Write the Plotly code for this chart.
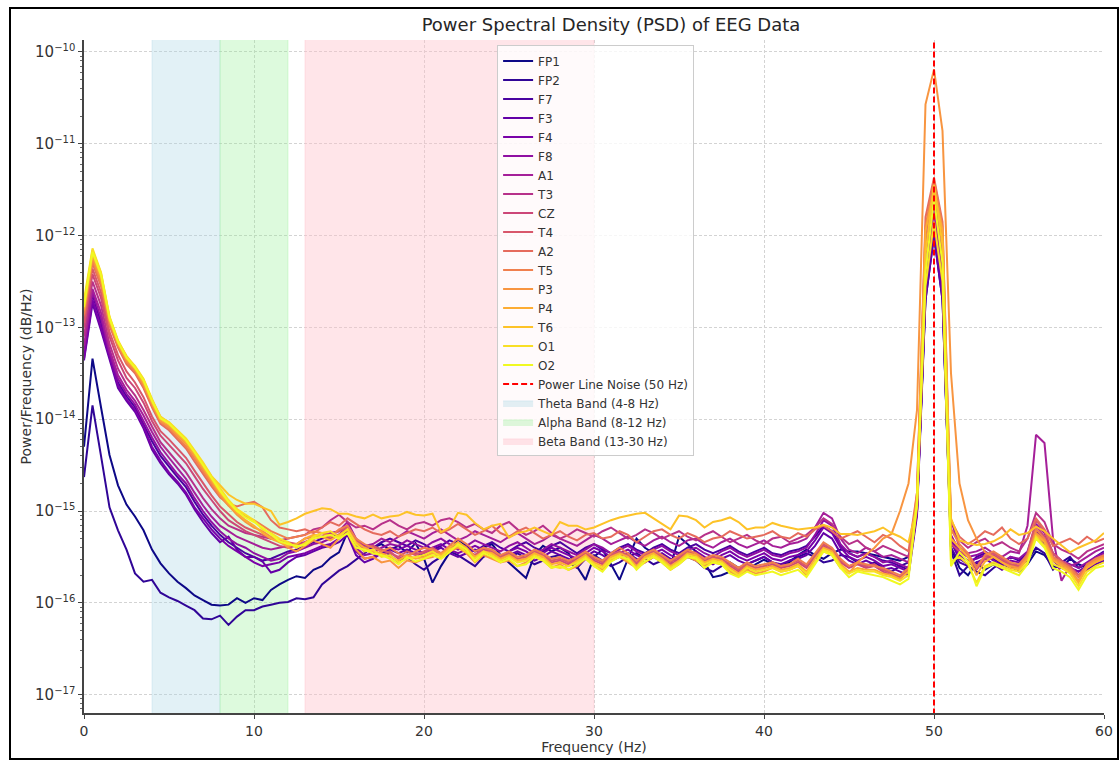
import numpy as np
import plotly.graph_objects as go

# Frequency grid (Hz), 0.5 Hz resolution
freqs = np.arange(0, 60.5, 0.5)

channels = ["FP1", "FP2", "F7", "F3", "F4", "F8", "A1", "T3", "CZ",
            "T4", "A2", "T5", "P3", "P4", "T6", "O1", "O2"]

# plasma colormap sampled at 17 evenly spaced points
colors = ["#0d0887", "#300597", "#4a02a0", "#6300a7", "#7a02a8", "#9010a2",
          "#a51f99", "#b7318a", "#cc4778", "#d8576b", "#e56b5d", "#f0804e",
          "#f89540", "#fdac33", "#fdc328", "#f8df25", "#f0f921"]

# y-axis decades and their labels
ytick_exps = [-17, -16, -15, -14, -13, -12, -11, -10]
ytick_text = ["10<sup><span style='font-size:10px'>−%d</span></sup>" % (-e) for e in ytick_exps]

# log10 PSD per channel, one row per 5 Hz (10 bins), last row = 60 Hz
fp1 = [
    -14.30, -13.34, -13.87, -14.39, -14.72, -14.93, -15.06, -15.21, -15.42, -15.57,
    -15.68, -15.77, -15.84, -15.92, -15.97, -16.02, -16.03, -16.02, -15.95, -16.00,
    -15.95, -15.97, -15.86, -15.80, -15.75, -15.71, -15.73, -15.64, -15.60, -15.51,
    -15.45, -15.23, -15.36, -15.37, -15.40, -15.36, -15.42, -15.38, -15.45, -15.35,
    -15.52, -15.78, -15.60, -15.46, -15.31, -15.38, -15.44, -15.40, -15.36, -15.48,
    -15.56, -15.64, -15.73, -15.48, -15.38, -15.44, -15.40, -15.46, -15.60, -15.75,
    -15.50, -15.42, -15.58, -15.75, -15.52, -15.30, -15.40, -15.46, -15.52, -15.60,
    -15.28, -15.36, -15.44, -15.56, -15.72, -15.70, -15.66, -15.70, -15.64, -15.58,
    -15.53, -15.58, -15.62, -15.56, -15.48, -15.42, -15.48, -15.52, -15.46, -15.42,
    -15.44, -15.44, -15.46, -15.48, -15.50, -15.52, -15.54, -15.50, -14.95, -12.70,
    -12.00, -12.70, -15.40, -15.62, -15.70, -15.56, -15.64, -15.58, -15.54, -15.60,
    -15.66, -15.58, -15.44, -15.48, -15.60, -15.62, -15.52, -15.58, -15.62, -15.56,
    -15.50]
fp2 = [
    -14.63, -13.85, -14.40, -14.96, -15.21, -15.42, -15.68, -15.77, -15.75, -15.89,
    -15.94, -15.98, -16.03, -16.08, -16.17, -16.18, -16.14, -16.24, -16.15, -16.08,
    -16.08, -16.04, -16.02, -16.00, -15.99, -15.95, -15.96, -15.94, -15.80, -15.72,
    -15.65, -15.60, -15.53, -15.45, -15.39, -15.42, -15.48, -15.56, -15.50, -15.58,
    -15.64, -15.56, -15.50, -15.44, -15.48, -15.54, -15.60, -15.50, -15.46, -15.54,
    -15.50, -15.46, -15.52, -15.58, -15.54, -15.50, -15.48, -15.56, -15.62, -15.52,
    -15.48, -15.54, -15.60, -15.56, -15.50, -15.46, -15.52, -15.58, -15.54, -15.60,
    -15.56, -15.50, -15.54, -15.62, -15.66, -15.60, -15.56, -15.62, -15.58, -15.54,
    -15.50, -15.56, -15.60, -15.54, -15.50, -15.46, -15.50, -15.56, -15.54, -15.48,
    -15.50, -15.56, -15.60, -15.56, -15.62, -15.66, -15.60, -15.56, -15.02, -12.65,
    -11.90, -12.65, -15.44, -15.70, -15.60, -15.66, -15.70, -15.62, -15.56, -15.62,
    -15.58, -15.54, -15.40, -15.46, -15.64, -15.56, -15.50, -15.62, -15.58, -15.52,
    -15.48]
f7 = [
    -13.30, -12.64, -12.95, -13.30, -13.60, -13.75, -13.87, -14.05, -14.24, -14.40,
    -14.52, -14.63, -14.74, -14.90, -15.04, -15.16, -15.26, -15.34, -15.40, -15.46,
    -15.50, -15.54, -15.52, -15.48, -15.44, -15.42, -15.38, -15.34, -15.30, -15.28,
    -15.26, -15.18, -15.36, -15.44, -15.40, -15.34, -15.30, -15.34, -15.38, -15.32,
    -15.36, -15.42, -15.38, -15.32, -15.36, -15.40, -15.44, -15.38, -15.34, -15.40,
    -15.44, -15.38, -15.34, -15.40, -15.44, -15.38, -15.34, -15.40, -15.46, -15.40,
    -15.36, -15.42, -15.46, -15.40, -15.36, -15.42, -15.46, -15.40, -15.36, -15.42,
    -15.46, -15.40, -15.36, -15.42, -15.46, -15.42, -15.38, -15.44, -15.48, -15.44,
    -15.40, -15.46, -15.48, -15.44, -15.42, -15.38, -15.28, -15.16, -15.22, -15.38,
    -15.46, -15.50, -15.46, -15.50, -15.54, -15.56, -15.60, -15.64, -15.00, -12.60,
    -11.95, -12.60, -15.40, -15.56, -15.60, -15.50, -15.46, -15.52, -15.58, -15.50,
    -15.54, -15.46, -15.22, -15.32, -15.50, -15.58, -15.62, -15.66, -15.60, -15.50,
    -15.44]
f3 = [
    -13.36, -12.74, -13.03, -13.35, -13.66, -13.80, -13.92, -14.10, -14.33, -14.48,
    -14.60, -14.70, -14.82, -14.98, -15.12, -15.24, -15.34, -15.28, -15.42, -15.50,
    -15.50, -15.55, -15.67, -15.64, -15.56, -15.50, -15.48, -15.44, -15.40, -15.38,
    -15.34, -15.26, -15.48, -15.56, -15.52, -15.46, -15.42, -15.46, -15.42, -15.46,
    -15.50, -15.44, -15.40, -15.46, -15.50, -15.46, -15.42, -15.46, -15.50, -15.54,
    -15.48, -15.44, -15.48, -15.54, -15.50, -15.44, -15.48, -15.52, -15.56, -15.50,
    -15.44, -15.48, -15.54, -15.50, -15.46, -15.52, -15.56, -15.50, -15.46, -15.52,
    -15.56, -15.50, -15.48, -15.54, -15.58, -15.52, -15.48, -15.54, -15.58, -15.54,
    -15.50, -15.56, -15.58, -15.54, -15.52, -15.48, -15.38, -15.24, -15.30, -15.46,
    -15.54, -15.58, -15.54, -15.58, -15.64, -15.62, -15.66, -15.70, -15.05, -12.70,
    -12.00, -12.70, -15.34, -15.52, -15.58, -15.56, -15.52, -15.58, -15.64, -15.58,
    -15.60, -15.52, -15.26, -15.36, -15.54, -15.62, -15.66, -15.70, -15.64, -15.58,
    -15.54]
f4 = [
    -13.34, -12.70, -13.00, -13.33, -13.63, -13.78, -13.90, -14.08, -14.30, -14.45,
    -14.58, -14.68, -14.80, -14.96, -15.08, -15.20, -15.30, -15.38, -15.44, -15.50,
    -15.56, -15.60, -15.58, -15.56, -15.50, -15.48, -15.46, -15.42, -15.38, -15.36,
    -15.30, -15.22, -15.44, -15.52, -15.50, -15.44, -15.40, -15.42, -15.38, -15.42,
    -15.46, -15.40, -15.36, -15.42, -15.46, -15.42, -15.38, -15.42, -15.46, -15.50,
    -15.44, -15.40, -15.44, -15.50, -15.46, -15.40, -15.44, -15.48, -15.52, -15.46,
    -15.40, -15.44, -15.50, -15.46, -15.42, -15.48, -15.52, -15.46, -15.42, -15.48,
    -15.52, -15.46, -15.44, -15.50, -15.54, -15.48, -15.44, -15.50, -15.54, -15.50,
    -15.46, -15.52, -15.54, -15.50, -15.48, -15.44, -15.32, -15.18, -15.24, -15.40,
    -15.50, -15.54, -15.50, -15.54, -15.60, -15.58, -15.62, -15.66, -15.02, -12.55,
    -11.90, -12.55, -15.30, -15.48, -15.54, -15.52, -15.48, -15.54, -15.60, -15.54,
    -15.56, -15.48, -15.20, -15.30, -15.50, -15.58, -15.62, -15.66, -15.60, -15.54,
    -15.50]
f8 = [
    -13.25, -12.62, -12.90, -13.28, -13.56, -13.72, -13.84, -14.02, -14.20, -14.36,
    -14.48, -14.60, -14.70, -14.86, -15.00, -15.12, -15.22, -15.30, -15.36, -15.40,
    -15.46, -15.50, -15.54, -15.52, -15.46, -15.44, -15.40, -15.36, -15.34, -15.30,
    -15.26, -15.16, -15.40, -15.48, -15.46, -15.40, -15.36, -15.38, -15.32, -15.36,
    -15.40, -15.34, -15.30, -15.36, -15.42, -15.38, -15.32, -15.36, -15.40, -15.44,
    -15.38, -15.34, -15.40, -15.46, -15.42, -15.36, -15.40, -15.44, -15.48, -15.42,
    -15.36, -15.40, -15.46, -15.42, -15.38, -15.44, -15.48, -15.42, -15.38, -15.44,
    -15.48, -15.42, -15.40, -15.46, -15.50, -15.44, -15.40, -15.46, -15.50, -15.46,
    -15.42, -15.48, -15.50, -15.46, -15.44, -15.40, -15.26, -15.10, -15.16, -15.36,
    -15.46, -15.50, -15.46, -15.50, -15.56, -15.54, -15.58, -15.62, -15.00, -12.50,
    -11.85, -12.50, -15.26, -15.44, -15.50, -15.48, -15.44, -15.50, -15.56, -15.50,
    -15.52, -15.44, -15.14, -15.24, -15.46, -15.54, -15.58, -15.62, -15.56, -15.50,
    -15.46]
a1 = [
    -13.20, -12.58, -12.84, -13.24, -13.52, -13.68, -13.80, -13.96, -14.14, -14.30,
    -14.42, -14.54, -14.65, -14.80, -14.94, -15.06, -15.16, -15.22, -15.28, -15.32,
    -15.36, -15.40, -15.42, -15.40, -15.38, -15.36, -15.34, -15.30, -15.28, -15.24,
    -15.22, -15.12, -15.30, -15.38, -15.36, -15.30, -15.34, -15.28, -15.22, -15.26,
    -15.30, -15.24, -15.20, -15.26, -15.32, -15.28, -15.22, -15.26, -15.30, -15.34,
    -15.28, -15.24, -15.30, -15.36, -15.32, -15.26, -15.30, -15.34, -15.38, -15.32,
    -15.26, -15.30, -15.36, -15.32, -15.28, -15.34, -15.38, -15.32, -15.28, -15.34,
    -15.38, -15.32, -15.30, -15.36, -15.40, -15.34, -15.30, -15.36, -15.40, -15.36,
    -15.32, -15.38, -15.40, -15.36, -15.34, -15.30, -15.18, -15.02, -15.08, -15.30,
    -15.42, -15.46, -15.40, -15.44, -15.50, -15.48, -15.52, -15.56, -14.95, -12.40,
    -11.75, -12.40, -15.10, -15.40, -15.46, -15.44, -15.40, -15.46, -15.50, -15.44,
    -15.46, -15.16, -14.17, -14.26, -15.30, -15.76, -15.60, -15.56, -15.50, -15.44,
    -15.40]
t3 = [
    -13.10, -12.50, -12.76, -13.18, -13.45, -13.62, -13.74, -13.90, -14.08, -14.25,
    -14.36, -14.47, -14.58, -14.72, -14.86, -14.98, -15.08, -15.16, -15.20, -15.24,
    -15.26, -15.28, -15.30, -15.32, -15.30, -15.28, -15.26, -15.20, -15.18, -15.10,
    -15.04, -15.12, -15.18, -15.16, -15.20, -15.14, -15.10, -15.16, -15.20, -15.14,
    -15.12, -15.16, -15.10, -15.08, -15.12, -15.18, -15.14, -15.20, -15.24, -15.16,
    -15.12, -15.20, -15.26, -15.22, -15.16, -15.24, -15.30, -15.26, -15.20, -15.24,
    -15.28, -15.22, -15.18, -15.24, -15.30, -15.26, -15.20, -15.24, -15.30, -15.26,
    -15.22, -15.28, -15.32, -15.26, -15.22, -15.28, -15.34, -15.30, -15.26, -15.32,
    -15.36, -15.30, -15.28, -15.34, -15.30, -15.26, -15.18, -15.08, -15.14, -15.28,
    -15.36, -15.32, -15.40, -15.44, -15.38, -15.42, -15.46, -15.50, -14.90, -12.20,
    -11.70, -12.20, -15.20, -15.32, -15.40, -15.34, -15.30, -15.38, -15.34, -15.40,
    -15.44, -15.30, -15.02, -15.12, -15.36, -15.42, -15.46, -15.52, -15.44, -15.40,
    -15.36]
cz = [
    -13.00, -12.42, -12.68, -13.10, -13.36, -13.55, -13.66, -13.82, -14.02, -14.18,
    -14.28, -14.38, -14.48, -14.62, -14.76, -14.88, -15.00, -15.10, -15.16, -15.22,
    -15.26, -15.30, -15.34, -15.38, -15.40, -15.38, -15.34, -15.30, -15.28, -15.30,
    -15.26, -15.20, -15.36, -15.42, -15.46, -15.48, -15.44, -15.52, -15.48, -15.46,
    -15.46, -15.42, -15.48, -15.44, -15.38, -15.44, -15.50, -15.42, -15.46, -15.52,
    -15.48, -15.54, -15.52, -15.46, -15.50, -15.56, -15.54, -15.58, -15.52, -15.48,
    -15.54, -15.58, -15.50, -15.46, -15.50, -15.58, -15.50, -15.46, -15.52, -15.58,
    -15.52, -15.46, -15.50, -15.56, -15.52, -15.54, -15.60, -15.66, -15.60, -15.64,
    -15.62, -15.58, -15.62, -15.60, -15.56, -15.62, -15.50, -15.38, -15.44, -15.56,
    -15.62, -15.58, -15.62, -15.60, -15.66, -15.70, -15.74, -15.66, -14.92, -12.10,
    -11.60, -12.10, -15.36, -15.44, -15.50, -15.64, -15.52, -15.48, -15.54, -15.60,
    -15.62, -15.48, -15.16, -15.28, -15.50, -15.56, -15.62, -15.72, -15.62, -15.56,
    -15.52]
t4 = [
    -12.95, -12.36, -12.62, -13.05, -13.30, -13.48, -13.60, -13.76, -13.97, -14.13,
    -14.22, -14.32, -14.42, -14.56, -14.70, -14.83, -14.95, -15.04, -15.12, -15.18,
    -15.22, -15.26, -15.30, -15.32, -15.34, -15.36, -15.30, -15.28, -15.24, -15.26,
    -15.22, -15.18, -15.32, -15.40, -15.38, -15.42, -15.46, -15.50, -15.44, -15.48,
    -15.44, -15.40, -15.46, -15.42, -15.36, -15.42, -15.48, -15.40, -15.44, -15.50,
    -15.46, -15.52, -15.50, -15.44, -15.48, -15.54, -15.52, -15.56, -15.50, -15.46,
    -15.52, -15.56, -15.48, -15.44, -15.48, -15.56, -15.48, -15.44, -15.50, -15.56,
    -15.50, -15.44, -15.48, -15.54, -15.50, -15.52, -15.58, -15.64, -15.58, -15.62,
    -15.60, -15.56, -15.60, -15.58, -15.54, -15.60, -15.48, -15.36, -15.42, -15.54,
    -15.60, -15.56, -15.60, -15.58, -15.64, -15.68, -15.72, -15.64, -14.90, -12.00,
    -11.50, -12.00, -15.30, -15.40, -15.48, -15.60, -15.50, -15.46, -15.52, -15.58,
    -15.60, -15.46, -15.10, -15.22, -15.46, -15.54, -15.60, -15.70, -15.60, -15.54,
    -15.50]
a2 = [
    -12.88, -12.30, -12.55, -12.98, -13.22, -13.40, -13.50, -13.66, -13.87, -14.05,
    -14.12, -14.22, -14.32, -14.46, -14.60, -14.73, -14.85, -14.92, -14.95, -14.92,
    -14.90, -14.96, -15.10, -15.18, -15.20, -15.22, -15.20, -15.24, -15.18, -15.12,
    -15.16, -15.08, -15.14, -15.20, -15.24, -15.26, -15.22, -15.28, -15.24, -15.20,
    -15.22, -15.18, -15.24, -15.20, -15.14, -15.20, -15.26, -15.22, -15.16, -15.24,
    -15.28, -15.22, -15.18, -15.24, -15.30, -15.26, -15.22, -15.28, -15.32, -15.26,
    -15.24, -15.30, -15.28, -15.22, -15.26, -15.34, -15.28, -15.22, -15.20, -15.26,
    -15.30, -15.24, -15.28, -15.34, -15.30, -15.28, -15.22, -15.26, -15.30, -15.28,
    -15.26, -15.22, -15.28, -15.30, -15.24, -15.28, -15.20, -15.16, -15.22, -15.30,
    -15.26, -15.22, -15.28, -15.34, -15.26, -15.30, -15.38, -15.44, -14.80, -11.80,
    -11.37, -11.85, -15.10, -15.28, -15.36, -15.30, -15.22, -15.26, -15.18, -15.30,
    -15.36, -15.30, -15.08, -15.20, -15.38, -15.34, -15.30, -15.36, -15.28, -15.34,
    -15.30]
t5 = [
    -12.86, -12.27, -12.52, -12.96, -13.20, -13.38, -13.48, -13.64, -13.85, -14.03,
    -14.10, -14.20, -14.30, -14.43, -14.57, -14.70, -14.84, -14.94, -15.00, -15.06,
    -15.10, -15.16, -15.22, -15.26, -15.30, -15.28, -15.26, -15.22, -15.24, -15.28,
    -15.20, -15.16, -15.30, -15.36, -15.40, -15.44, -15.40, -15.46, -15.50, -15.44,
    -15.40, -15.42, -15.46, -15.38, -15.30, -15.36, -15.44, -15.40, -15.42, -15.48,
    -15.44, -15.50, -15.48, -15.42, -15.46, -15.52, -15.50, -15.54, -15.50, -15.44,
    -15.50, -15.54, -15.46, -15.40, -15.46, -15.54, -15.46, -15.42, -15.48, -15.54,
    -15.48, -15.42, -15.46, -15.52, -15.48, -15.50, -15.56, -15.62, -15.56, -15.60,
    -15.58, -15.56, -15.60, -15.58, -15.52, -15.58, -15.46, -15.34, -15.40, -15.52,
    -15.60, -15.56, -15.58, -15.60, -15.62, -15.66, -15.70, -15.62, -14.80, -11.90,
    -11.40, -11.90, -15.20, -15.36, -15.46, -15.62, -15.48, -15.44, -15.50, -15.56,
    -15.58, -15.48, -15.20, -15.30, -15.50, -15.56, -15.62, -15.72, -15.58, -15.52,
    -15.48]
p3 = [
    -12.82, -12.24, -12.48, -12.93, -13.18, -13.36, -13.46, -13.62, -13.83, -14.02,
    -14.08, -14.17, -14.27, -14.40, -14.54, -14.68, -14.82, -14.94, -15.04, -15.12,
    -15.18, -15.22, -15.28, -15.32, -15.40, -15.44, -15.38, -15.32, -15.36, -15.40,
    -15.30, -15.24, -15.42, -15.52, -15.50, -15.56, -15.54, -15.62, -15.54, -15.56,
    -15.52, -15.50, -15.46, -15.44, -15.40, -15.46, -15.56, -15.48, -15.52, -15.56,
    -15.54, -15.60, -15.56, -15.50, -15.54, -15.62, -15.58, -15.64, -15.60, -15.52,
    -15.58, -15.64, -15.54, -15.50, -15.56, -15.62, -15.56, -15.50, -15.56, -15.64,
    -15.58, -15.50, -15.54, -15.60, -15.56, -15.58, -15.66, -15.70, -15.64, -15.68,
    -15.66, -15.62, -15.66, -15.64, -15.60, -15.70, -15.56, -15.44, -15.48, -15.62,
    -15.68, -15.56, -15.48, -15.40, -15.30, -15.25, -15.00, -14.70, -13.90, -10.57,
    -10.19, -10.86, -13.50, -14.70, -15.10, -15.30, -15.45, -15.50, -15.56, -15.60,
    -15.62, -15.50, -15.24, -15.32, -15.52, -15.58, -15.64, -15.76, -15.60, -15.54,
    -15.50]
p4 = [
    -12.80, -12.20, -12.45, -12.92, -13.17, -13.34, -13.45, -13.60, -13.82, -14.00,
    -14.06, -14.15, -14.25, -14.38, -14.52, -14.66, -14.80, -14.92, -15.02, -15.10,
    -15.16, -15.24, -15.30, -15.34, -15.38, -15.36, -15.30, -15.26, -15.28, -15.32,
    -15.26, -15.20, -15.34, -15.40, -15.44, -15.46, -15.50, -15.54, -15.48, -15.52,
    -15.50, -15.46, -15.48, -15.40, -15.34, -15.40, -15.50, -15.44, -15.46, -15.52,
    -15.48, -15.54, -15.52, -15.46, -15.50, -15.58, -15.56, -15.60, -15.54, -15.48,
    -15.56, -15.60, -15.50, -15.46, -15.50, -15.60, -15.50, -15.46, -15.52, -15.60,
    -15.54, -15.46, -15.48, -15.56, -15.52, -15.54, -15.62, -15.68, -15.60, -15.64,
    -15.62, -15.60, -15.64, -15.62, -15.58, -15.66, -15.52, -15.40, -15.44, -15.58,
    -15.66, -15.62, -15.64, -15.64, -15.68, -15.70, -15.74, -15.66, -14.85, -11.95,
    -11.50, -11.95, -15.30, -15.40, -15.50, -15.70, -15.55, -15.50, -15.56, -15.62,
    -15.64, -15.52, -15.26, -15.34, -15.54, -15.60, -15.66, -15.78, -15.62, -15.56,
    -15.52]
t6 = [
    -12.75, -12.16, -12.41, -12.89, -13.15, -13.31, -13.43, -13.57, -13.79, -13.97,
    -14.04, -14.13, -14.22, -14.35, -14.48, -14.62, -14.72, -14.82, -14.88, -14.92,
    -14.92, -14.96, -15.00, -15.15, -15.12, -15.08, -15.03, -15.00, -14.97, -14.98,
    -15.03, -15.03, -15.06, -15.08, -15.04, -15.08, -15.06, -15.05, -15.01, -15.04,
    -15.05, -15.03, -15.23, -15.18, -15.02, -15.04, -15.13, -15.20, -15.16, -15.14,
    -15.29, -15.24, -15.22, -15.18, -15.22, -15.26, -15.12, -15.16, -15.16, -15.20,
    -15.18, -15.14, -15.10, -15.07, -15.05, -15.03, -15.02, -15.08, -15.14, -15.20,
    -15.05, -15.06, -15.10, -15.18, -15.12, -15.10, -15.07, -15.12, -15.20, -15.18,
    -15.18, -15.13, -15.16, -15.18, -15.20, -15.19, -15.18, -15.15, -15.18, -15.25,
    -15.25, -15.26, -15.24, -15.22, -15.18, -15.24, -15.28, -15.34, -14.95, -12.20,
    -11.45, -12.10, -15.08, -15.32, -15.35, -15.37, -15.36, -15.33, -15.28, -15.20,
    -15.26, -15.24, -15.17, -15.22, -15.30, -15.38, -15.45, -15.40, -15.36, -15.32,
    -15.24]
o1 = [
    -12.70, -12.14, -12.40, -12.88, -13.14, -13.32, -13.42, -13.56, -13.78, -13.98,
    -14.03, -14.12, -14.21, -14.34, -14.47, -14.62, -14.75, -14.88, -14.98, -15.04,
    -15.10, -15.20, -15.24, -15.30, -15.34, -15.40, -15.35, -15.28, -15.24, -15.22,
    -15.28, -15.20, -15.36, -15.44, -15.42, -15.50, -15.48, -15.56, -15.52, -15.50,
    -15.48, -15.44, -15.50, -15.42, -15.38, -15.45, -15.52, -15.44, -15.48, -15.54,
    -15.50, -15.56, -15.54, -15.48, -15.52, -15.60, -15.62, -15.60, -15.56, -15.50,
    -15.58, -15.62, -15.52, -15.48, -15.54, -15.62, -15.52, -15.48, -15.54, -15.62,
    -15.56, -15.48, -15.50, -15.58, -15.54, -15.56, -15.64, -15.70, -15.62, -15.66,
    -15.64, -15.62, -15.66, -15.64, -15.60, -15.68, -15.56, -15.42, -15.46, -15.60,
    -15.68, -15.64, -15.66, -15.66, -15.70, -15.72, -15.76, -15.70, -14.95, -12.55,
    -11.85, -12.50, -15.55, -15.50, -15.58, -15.78, -15.60, -15.56, -15.60, -15.64,
    -15.66, -15.56, -15.28, -15.38, -15.58, -15.62, -15.68, -15.82, -15.66, -15.60,
    -15.56]
o2 = [
    -12.78, -12.18, -12.43, -12.90, -13.16, -13.33, -13.44, -13.58, -13.80, -13.99,
    -14.05, -14.14, -14.23, -14.36, -14.50, -14.64, -14.78, -14.90, -15.00, -15.07,
    -15.12, -15.18, -15.26, -15.33, -15.36, -15.38, -15.37, -15.30, -15.28, -15.26,
    -15.30, -15.24, -15.40, -15.42, -15.46, -15.48, -15.52, -15.58, -15.50, -15.55,
    -15.52, -15.48, -15.52, -15.45, -15.36, -15.42, -15.55, -15.46, -15.50, -15.56,
    -15.52, -15.60, -15.58, -15.50, -15.54, -15.62, -15.60, -15.64, -15.58, -15.52,
    -15.60, -15.66, -15.55, -15.50, -15.52, -15.64, -15.55, -15.50, -15.56, -15.64,
    -15.58, -15.50, -15.52, -15.62, -15.56, -15.58, -15.68, -15.72, -15.66, -15.70,
    -15.68, -15.66, -15.70, -15.67, -15.64, -15.72, -15.58, -15.44, -15.48, -15.62,
    -15.72, -15.66, -15.68, -15.70, -15.72, -15.76, -15.80, -15.74, -14.90, -12.40,
    -11.60, -12.30, -15.60, -15.45, -15.55, -15.82, -15.62, -15.58, -15.62, -15.66,
    -15.70, -15.58, -15.30, -15.40, -15.62, -15.66, -15.72, -15.86, -15.70, -15.62,
    -15.60]

series = [fp1, fp2, f7, f3, f4, f8, a1, t3, cz, t4, a2, t5, p3, p4, t6, o1, o2]

# Frequency bands (Hz)
band_names = ["Theta Band (4-8 Hz)", "Alpha Band (8-12 Hz)", "Beta Band (13-30 Hz)"]
band_lo = [4, 8, 13]
band_hi = [8, 12, 30]
band_fill = ["rgba(173,216,230,0.35)", "rgba(144,238,144,0.30)", "rgba(255,192,203,0.42)"]

line_freq = 50
y_lo, y_hi = 1e-18, 1e-9

fig = go.Figure()

# shaded bands (drawn first, listed last in the legend)
for k, name in enumerate(band_names):
    fig.add_trace(go.Scatter(
        x=[band_lo[k], band_hi[k], band_hi[k], band_lo[k], band_lo[k]],
        y=[y_lo, y_lo, y_hi, y_hi, y_lo],
        mode="lines", fill="toself", fillcolor=band_fill[k],
        line=dict(color=band_fill[k], width=1),
        name=name, legendrank=100 + k, hoverinfo="skip"))

for k, ch in enumerate(channels):
    fig.add_trace(go.Scatter(
        x=freqs, y=np.power(10.0, series[k]), mode="lines", name=ch,
        line=dict(color=colors[k], width=2), legendrank=k + 1))

fig.add_trace(go.Scatter(
    x=[line_freq, line_freq], y=[y_lo, y_hi], mode="lines",
    name="Power Line Noise (50 Hz)", legendrank=50,
    line=dict(color="red", width=2, dash="6px,3px")))

font = "DejaVu Sans, Arial, sans-serif"
grid_col = "#d3d3d3"

fig.update_layout(
    width=1120, height=761,
    margin=dict(l=84, r=16, t=40, b=48),
    paper_bgcolor="white", plot_bgcolor="white",
    font=dict(family=font, size=13, color="#333333"),
    title=dict(text="Power Spectral Density (PSD) of EEG Data",
               x=(611 - 84) / 1020, xref="paper", xanchor="center",
               y=1 - 25 / 761, yref="container", yanchor="middle",
               font=dict(size=18, color="#262626")),
    legend=dict(x=0.405, y=0.992, xanchor="left", yanchor="top",
                bgcolor="rgba(255,255,255,0.8)", bordercolor="#cccccc",
                borderwidth=1, font=dict(size=12, color="#333333"),
                traceorder="normal", itemwidth=30),
    showlegend=True,
)

fig.update_xaxes(
    range=[0, 60], dtick=10, tick0=0, automargin=False,
    showgrid=True, gridcolor=grid_col, griddash="3px,2px", gridwidth=1,
    showline=True, linecolor="#444444", linewidth=2,
    ticks="outside", ticklen=4, tickcolor="#444444",
    tickfont=dict(size=14, color="#333333"),
    title=dict(text="Frequency (Hz)", standoff=4, font=dict(size=14, color="#333333")),
    zeroline=False)

fig.update_yaxes(
    type="log", range=[-17.2, -9.87], automargin=False,
    tickmode="array", tickvals=[10.0 ** e for e in ytick_exps], ticktext=ytick_text,
    showgrid=True, gridcolor=grid_col, griddash="3px,2px", gridwidth=1,
    showline=True, linecolor="#444444", linewidth=1.5,
    ticks="outside", ticklen=4, tickcolor="#444444",
    minor=dict(ticks="outside", ticklen=2, tickcolor="#666666", showgrid=False, dtick="D1"),
    tickfont=dict(size=15, color="#333333"),
    title=dict(text="Power/Frequency (dB/Hz)", standoff=0, font=dict(size=14, color="#333333")),
    zeroline=False)

# frame around the whole figure
fig.add_shape(type="rect", xref="paper", yref="paper",
              x0=(10 - 84) / 1020, x1=(1118 - 84) / 1020,
              y0=(713 - 759) / 673, y1=(713 - 8) / 673,
              line=dict(color="black", width=2), fillcolor="rgba(0,0,0,0)", layer="above")

fig.write_html("out.html")
